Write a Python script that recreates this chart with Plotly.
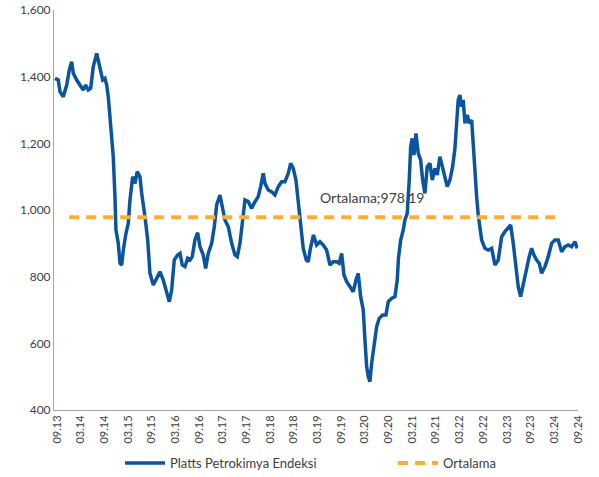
import plotly.graph_objects as go

# Decimal-year positions and index values
years = [2013.625, 2013.694, 2013.730, 2013.800, 2013.872, 2013.927, 2013.977, 2014.011, 2014.083, 2014.153,
         2014.222, 2014.273, 2014.328, 2014.378, 2014.433, 2014.505, 2014.575, 2014.632, 2014.680, 2014.716,
         2014.750, 2014.786, 2014.822, 2014.855, 2014.891, 2014.912, 2014.961, 2014.997, 2015.033, 2015.067,
         2015.124, 2015.172, 2015.208, 2015.265, 2015.314, 2015.362, 2015.419, 2015.455, 2015.525, 2015.582,
         2015.630, 2015.700, 2015.772, 2015.841, 2015.911, 2015.983, 2016.038, 2016.088, 2016.143, 2016.215,
         2016.264, 2016.312, 2016.369, 2016.426, 2016.475, 2016.523, 2016.580, 2016.637, 2016.686, 2016.755,
         2016.806, 2016.861, 2016.933, 2016.988, 2017.038, 2017.108, 2017.161, 2017.213, 2017.283, 2017.355,
         2017.425, 2017.473, 2017.530, 2017.587, 2017.636, 2017.705, 2017.777, 2017.847, 2017.916, 2017.967,
         2018.022, 2018.058, 2018.128, 2018.199, 2018.269, 2018.339, 2018.410, 2018.480, 2018.550, 2018.600,
         2018.655, 2018.712, 2018.761, 2018.812, 2018.866, 2018.930, 2018.972, 2019.018, 2019.082, 2019.149,
         2019.219, 2019.289, 2019.360, 2019.430, 2019.500, 2019.571, 2019.626, 2019.677, 2019.726, 2019.783,
         2019.852, 2019.922, 2019.979, 2020.027, 2020.078, 2020.133, 2020.169, 2020.205, 2020.239, 2020.274,
         2020.310, 2020.359, 2020.416, 2020.471, 2020.543, 2020.612, 2020.661, 2020.733, 2020.802, 2020.851,
         2020.876, 2020.923, 2020.978, 2021.013, 2021.062, 2021.104, 2021.134, 2021.167, 2021.203, 2021.246,
         2021.294, 2021.345, 2021.387, 2021.435, 2021.484, 2021.541, 2021.590, 2021.647, 2021.695, 2021.752,
         2021.809, 2021.858, 2021.906, 2021.963, 2022.020, 2022.069, 2022.105, 2022.138, 2022.174, 2022.210,
         2022.244, 2022.280, 2022.329, 2022.371, 2022.422, 2022.455, 2022.491, 2022.527, 2022.561, 2022.633,
         2022.702, 2022.772, 2022.844, 2022.913, 2022.983, 2023.055, 2023.124, 2023.194, 2023.245, 2023.300,
         2023.357, 2023.405, 2023.456, 2023.511, 2023.583, 2023.637, 2023.688, 2023.737, 2023.794, 2023.849,
         2023.899, 2023.969, 2024.039, 2024.110, 2024.180, 2024.250, 2024.321, 2024.391, 2024.461, 2024.532,
         2024.602, 2024.651]

index_values = [1395, 1390, 1355, 1340, 1375, 1420, 1445, 1410, 1390, 1375,
                1360, 1375, 1360, 1365, 1430, 1470, 1430, 1390, 1395, 1375,
                1340, 1270, 1210, 1160, 1040, 940, 900, 840, 835, 880,
                930, 960, 1030, 1100, 1080, 1115, 1100, 1050, 980, 910,
                810, 775, 795, 815, 790, 750, 725, 760, 850, 865,
                870, 835, 830, 855, 850, 860, 910, 932, 890, 865,
                825, 870, 900, 950, 1015, 1045, 1005, 970, 950, 900,
                865, 860, 900, 980, 1030, 1025, 1005, 1025, 1040, 1070,
                1110, 1080, 1060, 1055, 1045, 1070, 1085, 1085, 1110, 1140,
                1125, 1090, 1030, 970, 885, 850, 845, 885, 925, 895,
                905, 895, 880, 835, 845, 845, 840, 870, 805, 785,
                770, 755, 790, 810, 740, 700, 610, 530, 500, 485,
                540, 600, 650, 675, 685, 685, 725, 735, 740, 790,
                855, 910, 940, 970, 990, 1090, 1190, 1215, 1165, 1230,
                1170, 1150, 1090, 1050, 1130, 1140, 1090, 1125, 1105, 1160,
                1130, 1100, 1070, 1090, 1130, 1185, 1260, 1330, 1345, 1310,
                1330, 1260, 1285, 1260, 1270, 1190, 1110, 1040, 985, 910,
                885, 880, 885, 835, 850, 920, 935, 945, 955, 900,
                830, 770, 740, 780, 820, 860, 885, 865, 850, 840,
                810, 830, 860, 900, 910, 910, 875, 890, 895, 890,
                905, 885]

average_value = 978.19
average_span = [2013.925, 2024.33]

tick_positions = [2013.667 + 0.5 * i for i in range(23)]
tick_labels = ["09.13", "03.14", "09.14", "03.15", "09.15", "03.16", "09.16", "03.17", "09.17", "03.18",
               "09.18", "03.19", "09.19", "03.20", "09.20", "03.21", "09.21", "03.22", "09.22", "03.23",
               "09.23", "03.24", "09.24"]

series_name = "Platts Petrokimya Endeksi"
avg_name = "Ortalama"

BLUE = "#0B559F"
ORANGE = "#FBAE33"
TEXT = "#404040"
FONT = "Lato, Liberation Sans, sans-serif"

fig = go.Figure()
fig.add_trace(go.Scatter(x=years, y=index_values, mode="lines", name=series_name, legend="legend",
                         line=dict(color=BLUE, width=3.5)))
fig.add_trace(go.Scatter(x=average_span, y=[average_value, average_value], mode="lines", name=avg_name,
                         legend="legend2", line=dict(color=ORANGE, width=4, dash="10px,7px")))

fig.add_annotation(x=2020.32, y=average_value, yshift=20, text=f"{avg_name};{average_value:.2f}",
                   showarrow=False, font=dict(family=FONT, size=14, color=TEXT))

legend_common = dict(orientation="h", yanchor="middle", y=-0.1325, xanchor="left",
                     bgcolor="rgba(0,0,0,0)", font=dict(family=FONT, size=13, color=TEXT),
                     itemwidth=40, tracegroupgap=0)

fig.update_layout(
    width=599, height=477,
    margin=dict(l=54, r=21, t=10, b=67, autoexpand=False),
    paper_bgcolor="white", plot_bgcolor="white",
    font=dict(family=FONT, size=11, color=TEXT),
    showlegend=True,
    legend=dict(x=0.126, **legend_common),
    legend2=dict(x=0.647, **legend_common),
)
fig.update_xaxes(range=[2013.604, 2024.667], tickmode="array", tickvals=tick_positions, ticktext=tick_labels,
                 tickangle=-90, showgrid=False, zeroline=False, showline=True, linecolor="#A6A6A6",
                 linewidth=1, ticks="", automargin=False, tickfont=dict(family=FONT, size=11, color=TEXT))
fig.update_yaxes(range=[400, 1600], tickvals=[400, 600, 800, 1000, 1200, 1400, 1600], tickformat=",",
                 showgrid=False, zeroline=False, showline=True, linecolor="#A6A6A6", linewidth=1,
                 ticks="", automargin=False, tickfont=dict(family=FONT, size=12, color=TEXT))

fig.write_html("out.html", config={"displayModeBar": False},
               post_script="document.body.style.margin='0';document.body.style.overflow='hidden';")
